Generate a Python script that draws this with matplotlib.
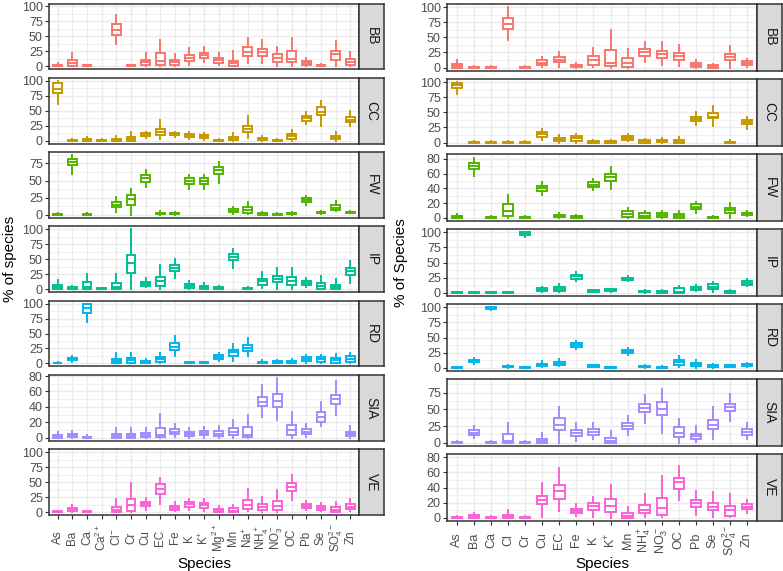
import matplotlib
matplotlib.use("Agg")
import matplotlib.pyplot as plt
from matplotlib.ticker import MultipleLocator

plt.rcParams['font.family'] = ['Liberation Sans', 'DejaVu Sans']
plt.rcParams['mathtext.fontset'] = 'custom'
plt.rcParams['mathtext.rm'] = 'Liberation Sans'
plt.rcParams['mathtext.it'] = 'Liberation Sans:italic'

# ---- data: (whisker low, q1, median, q3, whisker high) per species, None = absent
facets = ['BB', 'CC', 'FW', 'IP', 'RD', 'SIA', 'VE']
colors = ['#F8766D', '#C49A00', '#53B400', '#00C094', '#00B6EB', '#A58AFF', '#FB61D7']

left_species = ['As', 'Ba', 'Ca', 'Ca2+', 'Cl-', 'Cr', 'Cu', 'EC', 'Fe', 'K', 'K+', 'Mg2+', 'Mn',
                'Na+', 'NH4+', 'NO3-', 'OC', 'Pb', 'Se', 'SO42-', 'Zn']
left_labels = ['As', 'Ba', 'Ca', r'$\mathregular{Ca^{2+}}$', r'$\mathregular{Cl^{-}}$', 'Cr', 'Cu', 'EC',
               'Fe', 'K', r'$\mathregular{K^{+}}$', r'$\mathregular{Mg^{2+}}$', 'Mn', r'$\mathregular{Na^{+}}$',
               r'$\mathregular{NH_4^+}$', r'$\mathregular{NO_3^-}$', 'OC', 'Pb', 'Se',
               r'$\mathregular{SO_4^{2-}}$', 'Zn']

right_species = ['As', 'Ba', 'Ca', 'Cl', 'Cr', 'Cu', 'EC', 'Fe', 'K', 'K+', 'Mn', 'NH4+', 'NO3-',
                 'OC', 'Pb', 'Se', 'SO42-', 'Zn']
right_labels = ['As', 'Ba', 'Ca', 'Cl', 'Cr', 'Cu', 'EC', 'Fe', 'K', r'$\mathregular{K^{+}}$', 'Mn',
                r'$\mathregular{NH_4^+}$', r'$\mathregular{NO_3^-}$', 'OC', 'Pb', 'Se',
                r'$\mathregular{SO_4^{2-}}$', 'Zn']

left_BB = [(0, 0, 1, 3, 6), (0, 1, 5, 10, 23), (0, 0, 0.5, 1.5, 3), None, (37, 53, 60, 70, 86),
           (0, 0, 0.5, 1.5, 3), (0, 3, 7, 11, 22), (0, 3, 9, 22, 44), (0, 3, 7, 10, 20),
           (2, 9, 14, 19, 30), (7, 14, 19, 23, 33), (2, 6, 11, 14, 23), (0, 0, 5, 9, 25),
           (5, 17, 24, 32, 47), (5, 17, 24, 29, 44), (0, 7, 14, 21, 32), (0, 8, 13, 25, 48),
           (0, 2, 5, 9, 14), (0, 0, 1, 2, 4), (0, 10, 20, 25, 43), (0, 3, 7, 12, 24)]
left_CC = [(62, 80, 87, 97, 100), (0, 0, 0.5, 1.5, 3), (0, 0, 1, 3, 6), (0, 0, 0.5, 1, 2),
           (0, 0, 1, 3, 7), (0, 0, 2, 6, 14), (5, 8, 10, 12, 15), (3, 10, 15, 20, 35),
           (6, 9, 11, 13, 15), (3, 6, 9, 11, 15), (1, 4, 7, 9, 13), (0, 0, 0.5, 1.5, 3),
           (0, 1, 3, 6, 13), (4, 14, 20, 25, 41), (0, 1, 3, 4, 7), (0, 0, 0.5, 1, 3),
           (0, 3, 7, 11, 18), (28, 33, 38, 41, 47), (25, 42, 48, 56, 67), (0, 3, 6, 8, 15),
           (24, 31, 35, 39, 49)]
left_FW = [(0, 0, 0.5, 1.5, 2), (59, 72, 77, 81, 87), (0, 0, 0.5, 1.5, 2), None, (4, 12, 15, 18, 26),
           (0, 15, 23, 29, 38), (40, 48, 53, 58, 65), (0, 1, 2, 3, 5), (0, 1, 2, 3, 4),
           (37, 45, 50, 53, 58), (38, 45, 50, 53, 58), (46, 60, 65, 70, 77), (1, 4, 6, 8, 11),
           (1, 3, 7, 11, 19), (0, 0, 1, 2, 4), (0, 0, 0.5, 1.5, 3), (0, 1, 2, 3, 4),
           (14, 18, 21, 24, 27), (1, 2, 3, 4, 6), (5, 7, 10, 14, 20), (2, 3, 3.5, 4, 5)]
left_IP = [(0, 0, 4, 7, 15), (0, 0, 1, 3, 5), (0, 0, 4, 12, 25), (0, 0, 0.5, 1.5, 2), (0, 0, 4, 10, 25),
           (0, 27, 43, 57, 100), (3, 5, 8, 12, 18), (0, 5, 13, 21, 40), (18, 31, 36, 40, 51),
           (0, 2, 5, 8, 13), (0, 1, 3, 6, 10), (0, 0, 1, 3, 5), (36, 49, 53, 58, 67),
           (0, 0, 0.5, 2, 4), (2, 7, 13, 17, 28), (0, 12, 17, 22, 35), (0, 7, 14, 21, 35),
           (4, 7, 10, 13, 18), (0, 1, 5, 10, 22), (0, 0, 4, 7, 17), (10, 24, 30, 36, 47)]
left_RD = [(0, 0, 0.5, 1.5, 3), (3, 5, 7, 9, 12), (70, 84, 93, 99, 100), None, (0, 1, 4, 8, 17),
           (0, 1, 5, 9, 18), (0, 1, 2, 4, 7), (1, 3, 7, 11, 18), (13, 23, 28, 34, 46),
           (0, 0, 1, 2, 3), (0, 0, 1, 2, 3), (4, 7, 11, 14, 18), (4, 13, 19, 23, 33),
           (12, 21, 26, 30, 42), (0, 1, 2, 3, 5), (0, 0, 2, 4, 6), (0, 0, 2, 4, 8),
           (1, 4, 7, 10, 14), (1, 3, 7, 10, 14), (0, 1, 5, 9, 16), (1, 3, 8, 12, 17)]
left_SIA = [(0, 0, 1.5, 4, 8), (0, 1, 3, 5, 9), (0, 0, 0.5, 1.5, 3), None, (0, 0, 2, 5, 12),
            (0, 0, 2, 5, 12), (0, 1, 3, 6, 13), (0, 1, 4, 13, 31), (1, 5, 8, 11, 18),
            (0, 2, 5, 8, 13), (0, 3, 6, 9, 14), (0, 2, 5, 9, 15), (0, 3, 8, 13, 23),
            (0, 1, 4, 14, 30), (27, 41, 46, 53, 69), (23, 40, 48, 57, 78), (0, 4, 10, 17, 33),
            (1, 5, 8, 11, 18), (15, 21, 27, 33, 47), (30, 44, 50, 56, 74), (0, 2, 5, 8, 15)]
left_VE = [(0, 0, 0.5, 1.5, 2), (0, 1, 3, 6, 11), (0, 0, 0.5, 1.5, 2), None, (0, 0, 3, 9, 21),
           (0, 1, 11, 22, 49), (4, 10, 13, 17, 24), (14, 30, 38, 46, 57), (1, 3, 7, 10, 16),
           (4, 8, 13, 17, 22), (1, 7, 11, 15, 22), (0, 0, 2, 5, 10), (0, 0, 2, 6, 11),
           (1, 5, 12, 20, 39), (0, 4, 9, 14, 25), (0, 4, 10, 18, 37), (20, 35, 41, 48, 62),
           (3, 6, 10, 14, 19), (1, 3, 6, 10, 15), (0, 0, 3, 8, 17), (1, 5, 9, 13, 21)]

right_BB = [(0, 0, 3, 6, 12), (0, 0, 0.5, 1.5, 2), (0, 0, 0.5, 1.5, 2), (46, 64, 72, 82, 100),
            (0, 0, 0.5, 1.5, 2), (1, 4, 8, 12, 17), (1, 9, 13, 17, 25), (0, 1, 3, 5, 8),
            (1, 5, 12, 19, 33), (0, 2, 7, 29, 62), (0, 1, 7, 15, 31), (9, 19, 25, 30, 43),
            (4, 15, 22, 27, 43), (2, 12, 19, 24, 38), (0, 1, 4, 7, 13), (0, 0, 1, 4, 6),
            (0, 12, 17, 23, 36), (1, 4, 7, 10, 14)]
right_CC = [(81, 90, 95, 99, 100), (0, 0, 0.5, 1.5, 2), (0, 0, 0.5, 1.5, 2), (0, 0, 0.5, 1.5, 2),
            (0, 0, 0.5, 1.5, 2), (4, 10, 14, 18, 23), (0, 2, 4, 8, 12), (0, 3, 7, 11, 15),
            (0, 0, 1, 3, 4), (0, 0, 1, 3, 5), (2, 4, 7, 11, 14), (0, 0, 1, 4, 6),
            (0, 1, 2, 4, 8), (0, 0, 1, 5, 10), (29, 35, 39, 43, 51), (28, 40, 43, 49, 60),
            (0, 0, 0.5, 1.5, 4), (23, 31, 34, 38, 42)]
right_FW = [(0, 0, 1, 2, 5), (57, 66, 70, 74, 82), (0, 0, 0.5, 1, 2), (0, 2, 9, 18, 31),
            (0, 0, 0.5, 1, 2), (31, 36, 40, 43, 49), (0, 1, 2, 4, 7), (0, 0, 1, 3, 4),
            (38, 42, 45, 48, 53), (39, 50, 55, 59, 69), (0, 1, 5, 9, 13), (0, 0, 2, 6, 9),
            (0, 1, 4, 6, 9), (0, 0, 2, 5, 9), (7, 12, 15, 18, 21), (0, 0, 0.5, 1.5, 2),
            (0, 7, 10, 13, 20), (3, 4, 6, 7, 9)]
right_IP = [(0, 0, 0.5, 1, 2), (0, 0, 0.5, 1, 2), (0, 0, 0.5, 1, 2), (0, 0, 0.5, 1, 2),
            (92, 95, 99, 100, 100), (2, 3, 5, 8, 10), (1, 3, 6, 10, 15), (20, 23, 27, 30, 34),
            (1, 2, 3, 4, 5), (2, 3, 4, 6, 7), (19, 21, 23, 25, 27), (0, 1, 2, 3, 4),
            (0, 0, 1, 3, 5), (0, 0, 1, 8, 11), (3, 5, 7, 10, 12), (1, 7, 10, 14, 17),
            (0, 0, 1, 3, 4), (11, 13, 16, 19, 22)]
right_RD = [(0, 0, 0.5, 1, 2), (7, 9, 11, 13, 16), (96, 98, 99.5, 100, 100), (0, 1, 2, 3, 4),
            (0, 0, 0.5, 1, 2), (1, 3, 5, 7, 11), (3, 5, 7, 10, 14), (31, 35, 38, 41, 45),
            (1, 2, 3, 4, 5), (0, 0, 0.5, 1, 2), (22, 25, 28, 30, 32), (0, 1, 2, 3, 4),
            (0, 0, 1, 2, 3), (1, 4, 9, 13, 19), (0, 3, 5, 8, 13), (0, 1, 3, 4, 6),
            (1, 2, 3, 4, 5), (1, 3, 4, 6, 8)]
right_SIA = [(0, 0, 0.5, 1, 2), (7, 11, 15, 19, 25), (0, 0, 0.5, 1, 2), (0, 0, 2, 13, 29),
             (0, 0, 0.5, 1, 2), (0, 0, 2, 6, 15), (0, 19, 27, 37, 53), (2, 10, 15, 19, 30),
             (5, 11, 16, 20, 30), (0, 0, 2, 7, 17), (11, 21, 25, 30, 40), (29, 46, 52, 58, 71),
             (14, 41, 51, 61, 80), (0, 9, 15, 23, 36), (1, 5, 10, 13, 25), (5, 20, 27, 34, 53),
             (32, 47, 53, 58, 73), (5, 11, 16, 20, 30)]
right_VE = [(0, 0, 0.5, 1, 2), (0, 0, 1, 4, 7), (0, 0, 0.5, 1, 2), (0, 0, 1, 4, 10),
            (0, 0, 0.5, 1, 2), (1, 18, 24, 29, 46), (9, 25, 35, 43, 66), (2, 6, 9, 12, 18),
            (1, 11, 16, 20, 28), (0, 8, 16, 25, 44), (0, 0, 2, 6, 14), (1, 6, 11, 17, 31),
            (1, 4, 13, 26, 55), (23, 38, 47, 53, 69), (4, 15, 20, 24, 35), (1, 10, 14, 20, 34),
            (1, 3, 11, 16, 32), (6, 12, 15, 18, 24)]

left_rows = [left_BB, left_CC, left_FW, left_IP, left_RD, left_SIA, left_VE]
right_rows = [right_BB, right_CC, right_FW, right_IP, right_RD, right_SIA, right_VE]

# y range per facet (free scales, includes hidden outliers) and tick step
left_ylims = [(-5, 105), (-5, 105), (-4.4, 91.4), (-5, 105), (-5, 105), (-3.9, 81.5), (-5, 105)]
left_ysteps = [25, 25, 25, 25, 25, 20, 25]
right_ylims = [(-5, 105), (-5, 105), (-4.1, 86.6), (-5, 105), (-5, 105), (-4.7, 95), (-4, 83.6)]
right_ysteps = [25, 25, 20, 25, 25, 25, 20]

W, H = 783, 571
fig = plt.figure(figsize=(W / 100, H / 100), dpi=100)
fig.patch.set_facecolor('white')

BORDER = '#333333'
GRID = '#EBEBEB'
TXT = '#4D4D4D'


def px_axes(x0, y0, x1, y1):
    return fig.add_axes([x0 / W, 1 - y1 / H, (x1 - x0) / W, (y1 - y0) / H])


def draw_panel(x0, x1, top, bottom, labels, rows, ylims, ysteps, ylabel, ylab_x, xpad, xfs):
    n = len(rows)
    gap = 8.5
    h = (bottom - top - gap * (n - 1)) / n
    for i, vals in enumerate(rows):
        y0 = top + i * (h + gap)
        ax = px_axes(x0, y0, x1, y0 + h)
        c = colors[i]
        stats, pos = [], []
        for j, v in enumerate(vals):
            if v is None:
                continue
            lo, q1, md, q3, hi = v
            stats.append(dict(whislo=lo, q1=q1, med=md, q3=q3, whishi=hi, fliers=[]))
            pos.append(j + 1)
        ax.bxp(stats, positions=pos, widths=0.6, showcaps=False, showfliers=False,
               patch_artist=True, manage_ticks=False,
               boxprops=dict(facecolor='white', edgecolor=c, linewidth=1.4),
               medianprops=dict(color=c, linewidth=1.4, solid_capstyle='butt'),
               whiskerprops=dict(color=c, linewidth=1.4))
        ax.set_xlim(0.4, len(labels) + 0.6)
        ax.set_ylim(*ylims[i])
        ax.yaxis.set_major_locator(MultipleLocator(ysteps[i]))
        ax.yaxis.set_minor_locator(MultipleLocator(ysteps[i] / 2))
        ax.set_xticks(range(1, len(labels) + 1))
        ax.grid(which='major', color=GRID, linewidth=1.0)
        ax.grid(which='minor', axis='y', color=GRID, linewidth=0.5)
        ax.set_axisbelow(True)
        for s in ax.spines.values():
            s.set_color(BORDER)
            s.set_linewidth(1.1)
        ax.tick_params(axis='y', which='major', length=3, color=BORDER, labelsize=9,
                       labelcolor=TXT, pad=1.5)
        ax.tick_params(axis='y', which='minor', length=0)
        if i == n - 1:
            ax.set_xticklabels(labels, rotation=90, fontsize=xfs, color=TXT,
                               va='center', ha='center')
            ax.tick_params(axis='x', length=3, color=BORDER, pad=xpad)
        else:
            ax.tick_params(axis='x', length=0, labelbottom=False)

        sx = px_axes(x1, y0, x1 + 25, y0 + h)
        sx.set_facecolor('#D9D9D9')
        sx.set_xticks([])
        sx.set_yticks([])
        for s in sx.spines.values():
            s.set_color(BORDER)
            s.set_linewidth(1.1)
        sx.text(0.5, 0.5, facets[i], rotation=270, ha='center', va='center',
                fontsize=10, color='#1A1A1A', transform=sx.transAxes)

    fig.text(ylab_x / W, 1 - (top + bottom) / 2 / H, ylabel, rotation=90,
             ha='center', va='center', fontsize=11)
    fig.text((x0 + x1) / 2 / W, 1 - 564 / H, 'Species', ha='center', va='center',
             fontsize=11)


draw_panel(49, 359, 3.5, 515, left_labels, left_rows, left_ylims, left_ysteps,
           '% of species', 10, 13.3, 8.4)
draw_panel(447, 757, 4, 521, right_labels, right_rows, right_ylims, right_ysteps,
           '% of Species', 401, 10.7, 9)

fig.savefig('out.png', dpi=100)
